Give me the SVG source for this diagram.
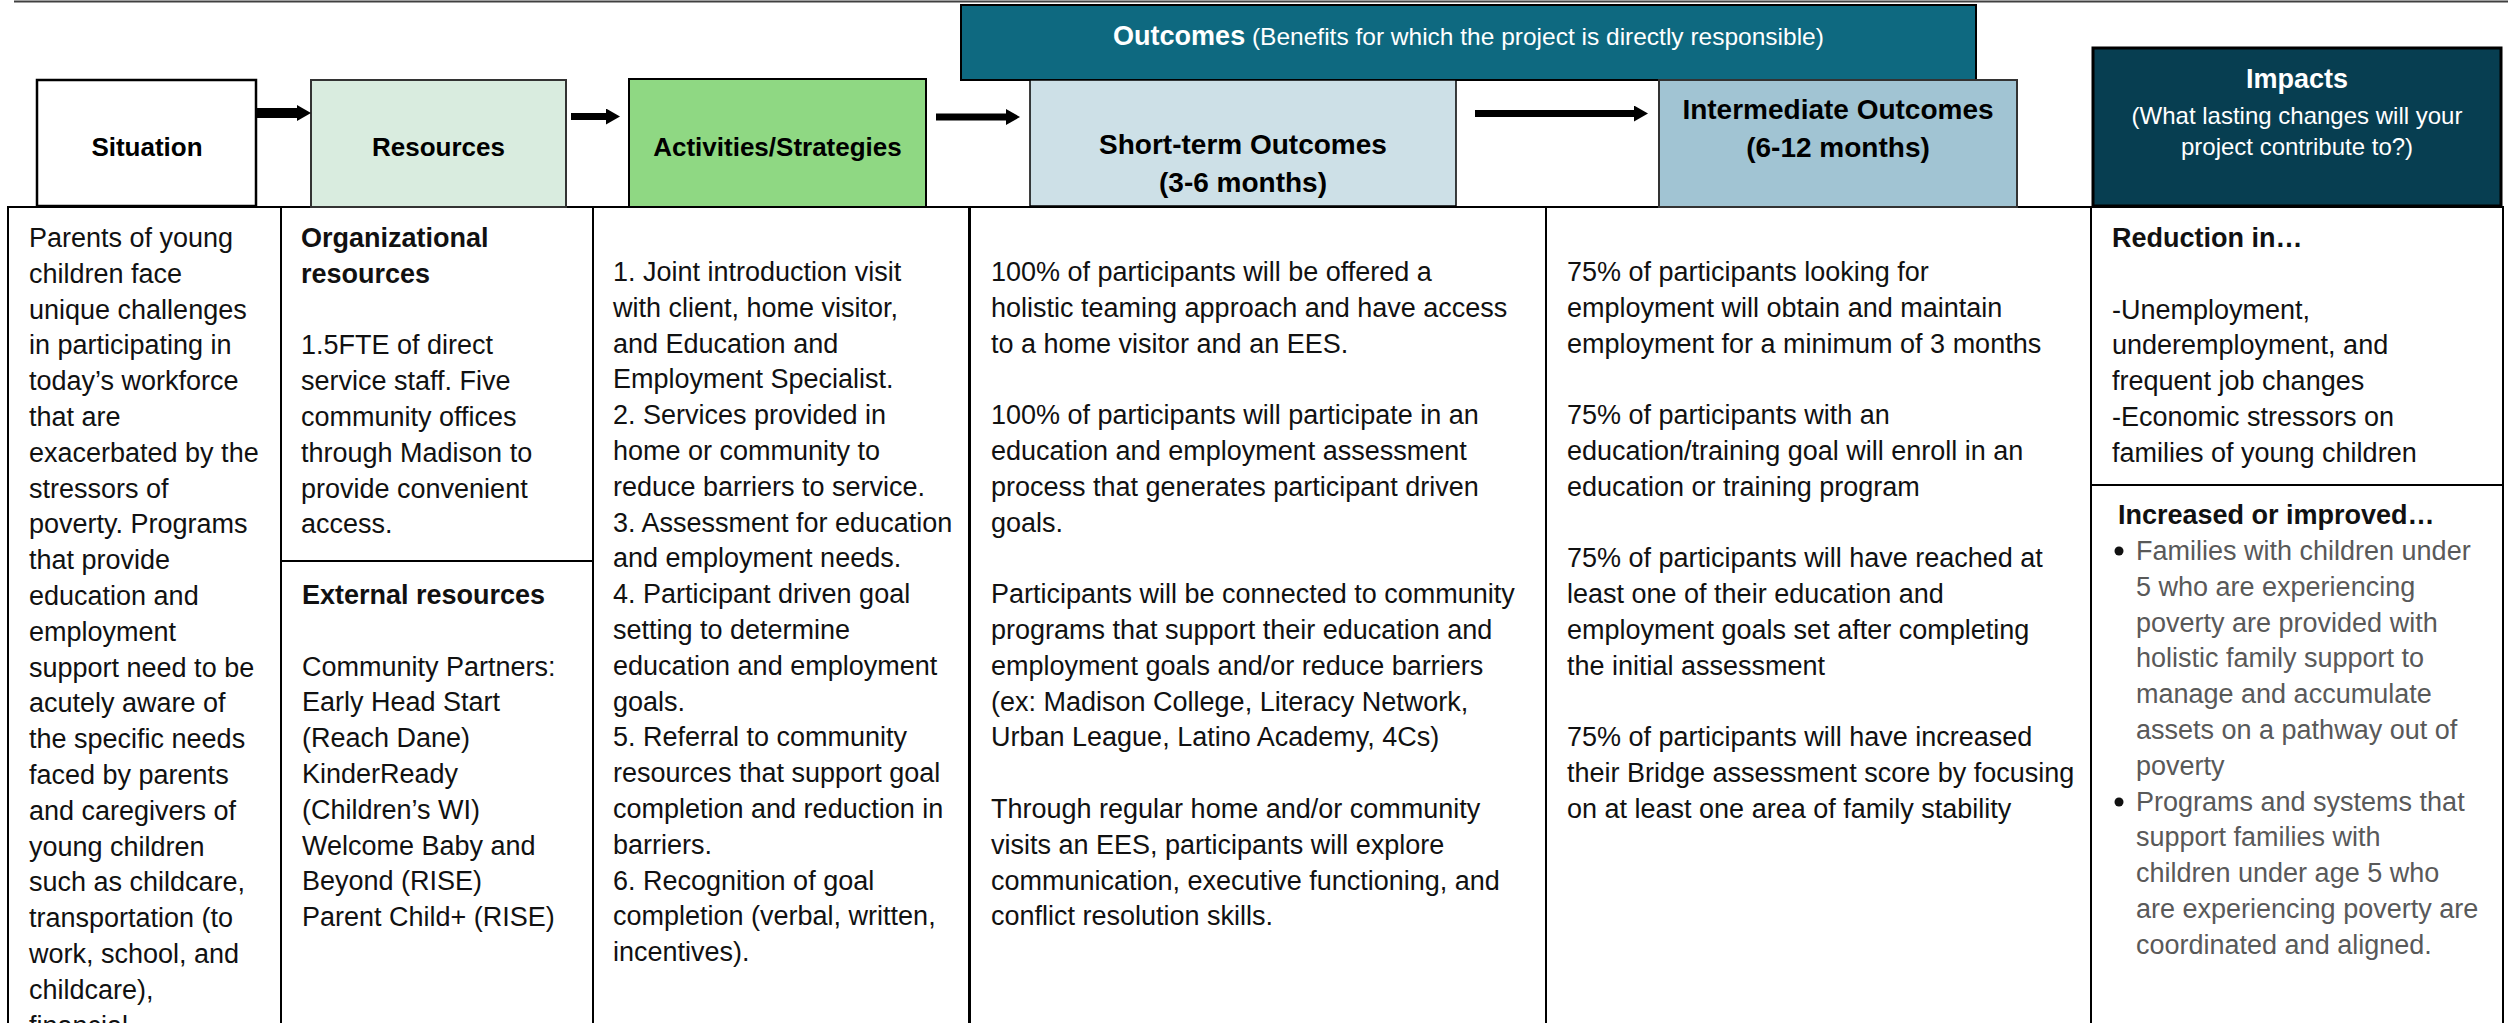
<svg xmlns="http://www.w3.org/2000/svg" width="2508" height="1023" viewBox="0 0 2508 1023">
<style>
  text { font-family: "Liberation Sans", Arial, sans-serif; }
  .body { font-size: 27px; fill: #111; }
  .bold { font-weight: bold; }
  .gray { fill: #595959; }
  .hdr { font-size: 26px; font-weight: bold; fill: #000; text-anchor: middle; }
  .hdr28 { font-size: 28px; font-weight: bold; fill: #000; text-anchor: middle; }
  .wht { fill: #fff; text-anchor: middle; }
  .cell { fill: #fff; stroke: #000; stroke-width: 2; }
  .arrow { stroke: #000; fill: none; }
</style>
<defs>
  <marker id="ah" markerUnits="userSpaceOnUse" markerWidth="14" markerHeight="16" refX="0" refY="8" orient="auto">
    <path d="M0,0 L14,8 L0,16 Z" fill="#000"/>
  </marker>
</defs>
<rect x="0" y="0" width="2508" height="1023" fill="#fff"/>
<line x1="14" y1="1.5" x2="2508" y2="1.5" stroke="#404040" stroke-width="2"/>

<g id="situation">
  <rect class="cell" x="8" y="207" width="273" height="830"/>
  <rect x="37" y="80" width="219" height="126" fill="#fff" stroke="#000" stroke-width="2.5"/>
  <text class="hdr" x="147" y="156">Situation</text>
  <text class="body" x="29" y="247">
    <tspan x="29">Parents of young</tspan>
    <tspan x="29" dy="35.8">children face</tspan>
    <tspan x="29" dy="35.8">unique challenges</tspan>
    <tspan x="29" dy="35.8">in participating in</tspan>
    <tspan x="29" dy="35.8">today’s workforce</tspan>
    <tspan x="29" dy="35.8">that are</tspan>
    <tspan x="29" dy="35.8">exacerbated by the</tspan>
    <tspan x="29" dy="35.8">stressors of</tspan>
    <tspan x="29" dy="35.8">poverty. Programs</tspan>
    <tspan x="29" dy="35.8">that provide</tspan>
    <tspan x="29" dy="35.8">education and</tspan>
    <tspan x="29" dy="35.8">employment</tspan>
    <tspan x="29" dy="35.8">support need to be</tspan>
    <tspan x="29" dy="35.8">acutely aware of</tspan>
    <tspan x="29" dy="35.8">the specific needs</tspan>
    <tspan x="29" dy="35.8">faced by parents</tspan>
    <tspan x="29" dy="35.8">and caregivers of</tspan>
    <tspan x="29" dy="35.8">young children</tspan>
    <tspan x="29" dy="35.8">such as childcare,</tspan>
    <tspan x="29" dy="35.8">transportation (to</tspan>
    <tspan x="29" dy="35.8">work, school, and</tspan>
    <tspan x="29" dy="35.8">childcare),</tspan>
    <tspan x="29" dy="35.8">financial</tspan>
  </text>
</g>

<g id="resources">
  <rect class="cell" x="281" y="207" width="312" height="830"/>
  <line x1="281" y1="561" x2="593" y2="561" stroke="#000" stroke-width="2"/>
  <rect x="311" y="80" width="255" height="127" fill="#d9ecdf" stroke="#333" stroke-width="2"/>
  <text class="hdr" x="438.5" y="156">Resources</text>
  <text class="body" x="301" y="247">
    <tspan x="301" class="bold">Organizational</tspan>
    <tspan x="301" dy="35.8" class="bold">resources</tspan>
    <tspan x="301" dy="71.6">1.5FTE of direct</tspan>
    <tspan x="301" dy="35.8">service staff. Five</tspan>
    <tspan x="301" dy="35.8">community offices</tspan>
    <tspan x="301" dy="35.8">through Madison to</tspan>
    <tspan x="301" dy="35.8">provide convenient</tspan>
    <tspan x="301" dy="35.8">access.</tspan>
  </text>
  <text class="body" x="302" y="604">
    <tspan x="302" class="bold">External resources</tspan>
    <tspan x="302" dy="71.6">Community Partners:</tspan>
    <tspan x="302" dy="35.8">Early Head Start</tspan>
    <tspan x="302" dy="35.8">(Reach Dane)</tspan>
    <tspan x="302" dy="35.8">KinderReady</tspan>
    <tspan x="302" dy="35.8">(Children’s WI)</tspan>
    <tspan x="302" dy="35.8">Welcome Baby and</tspan>
    <tspan x="302" dy="35.8">Beyond (RISE)</tspan>
    <tspan x="302" dy="35.8">Parent Child+ (RISE)</tspan>
  </text>
</g>

<g id="activities">
  <rect class="cell" x="593" y="207" width="376" height="830"/>
  <rect x="629" y="79" width="297" height="128" fill="#8fd883" stroke="#000" stroke-width="2"/>
  <text class="hdr" x="777.5" y="156">Activities/Strategies</text>
  <text class="body" x="613" y="281">
    <tspan x="613">1. Joint introduction visit</tspan>
    <tspan x="613" dy="35.8">with client, home visitor,</tspan>
    <tspan x="613" dy="35.8">and Education and</tspan>
    <tspan x="613" dy="35.8">Employment Specialist.</tspan>
    <tspan x="613" dy="35.8">2. Services provided in</tspan>
    <tspan x="613" dy="35.8">home or community to</tspan>
    <tspan x="613" dy="35.8">reduce barriers to service.</tspan>
    <tspan x="613" dy="35.8">3. Assessment for education</tspan>
    <tspan x="613" dy="35.8">and employment needs.</tspan>
    <tspan x="613" dy="35.8">4. Participant driven goal</tspan>
    <tspan x="613" dy="35.8">setting to determine</tspan>
    <tspan x="613" dy="35.8">education and employment</tspan>
    <tspan x="613" dy="35.8">goals.</tspan>
    <tspan x="613" dy="35.8">5. Referral to community</tspan>
    <tspan x="613" dy="35.8">resources that support goal</tspan>
    <tspan x="613" dy="35.8">completion and reduction in</tspan>
    <tspan x="613" dy="35.8">barriers.</tspan>
    <tspan x="613" dy="35.8">6. Recognition of goal</tspan>
    <tspan x="613" dy="35.8">completion (verbal, written,</tspan>
    <tspan x="613" dy="35.8">incentives).</tspan>
  </text>
</g>

<g id="outcomes-banner">
  <rect x="961" y="5" width="1015" height="75" fill="#0e6980" stroke="#000" stroke-width="2"/>
  <text class="wht" x="1468.5" y="45"><tspan font-weight="bold" font-size="27">Outcomes</tspan><tspan font-size="24.5"> (Benefits for which the project is directly responsible)</tspan></text>
</g>

<g id="short-term">
  <rect class="cell" x="970" y="207" width="576" height="830"/>
  <rect x="1030" y="80" width="426" height="126" fill="#cde0e7" stroke="#000" stroke-width="1.5"/>
  <text class="hdr28" x="1243" y="154">Short-term Outcomes</text>
  <text class="hdr28" x="1243" y="192">(3-6 months)</text>
  <text class="body" x="991" y="281">
    <tspan x="991">100% of participants will be offered a</tspan>
    <tspan x="991" dy="35.8">holistic teaming approach and have access</tspan>
    <tspan x="991" dy="35.8">to a home visitor and an EES.</tspan>
    <tspan x="991" dy="71.6">100% of participants will participate in an</tspan>
    <tspan x="991" dy="35.8">education and employment assessment</tspan>
    <tspan x="991" dy="35.8">process that generates participant driven</tspan>
    <tspan x="991" dy="35.8">goals.</tspan>
    <tspan x="991" dy="71.6">Participants will be connected to community</tspan>
    <tspan x="991" dy="35.8">programs that support their education and</tspan>
    <tspan x="991" dy="35.8">employment goals and/or reduce barriers</tspan>
    <tspan x="991" dy="35.8">(ex: Madison College, Literacy Network,</tspan>
    <tspan x="991" dy="35.8">Urban League, Latino Academy, 4Cs)</tspan>
    <tspan x="991" dy="71.6">Through regular home and/or community</tspan>
    <tspan x="991" dy="35.8">visits an EES, participants will explore</tspan>
    <tspan x="991" dy="35.8">communication, executive functioning, and</tspan>
    <tspan x="991" dy="35.8">conflict resolution skills.</tspan>
  </text>
</g>

<g id="intermediate">
  <rect class="cell" x="1546" y="207" width="545" height="830"/>
  <rect x="1659" y="80" width="358" height="127" fill="#a1c4d3" stroke="#333" stroke-width="2"/>
  <text class="hdr28" x="1838" y="119">Intermediate Outcomes</text>
  <text class="hdr28" x="1838" y="157">(6-12 months)</text>
  <text class="body" x="1567" y="281">
    <tspan x="1567">75% of participants looking for</tspan>
    <tspan x="1567" dy="35.8">employment will obtain and maintain</tspan>
    <tspan x="1567" dy="35.8">employment for a minimum of 3 months</tspan>
    <tspan x="1567" dy="71.6">75% of participants with an</tspan>
    <tspan x="1567" dy="35.8">education/training goal will enroll in an</tspan>
    <tspan x="1567" dy="35.8">education or training program</tspan>
    <tspan x="1567" dy="71.6">75% of participants will have reached at</tspan>
    <tspan x="1567" dy="35.8">least one of their education and</tspan>
    <tspan x="1567" dy="35.8">employment goals set after completing</tspan>
    <tspan x="1567" dy="35.8">the initial assessment</tspan>
    <tspan x="1567" dy="71.6">75% of participants will have increased</tspan>
    <tspan x="1567" dy="35.8">their Bridge assessment score by focusing</tspan>
    <tspan x="1567" dy="35.8">on at least one area of family stability</tspan>
  </text>
</g>

<g id="impacts">
  <rect class="cell" x="2091" y="207" width="412" height="830"/>
  <line x1="2091" y1="485" x2="2503" y2="485" stroke="#000" stroke-width="2"/>
  <rect x="2093" y="48" width="408" height="158" fill="#073e51" stroke="#000" stroke-width="3"/>
  <text class="wht" x="2297" y="88" font-size="27" font-weight="bold">Impacts</text>
  <text class="wht" x="2297" y="124" font-size="24">(What lasting changes will your</text>
  <text class="wht" x="2297" y="155" font-size="24">project contribute to?)</text>
  <text class="body" x="2112" y="247">
    <tspan x="2112" class="bold">Reduction in…</tspan>
    <tspan x="2112" dy="71.6">-Unemployment,</tspan>
    <tspan x="2112" dy="35.8">underemployment, and</tspan>
    <tspan x="2112" dy="35.8">frequent job changes</tspan>
    <tspan x="2112" dy="35.8">-Economic stressors on</tspan>
    <tspan x="2112" dy="35.8">families of young children</tspan>
  </text>
  <text class="body bold" x="2118" y="524">Increased or improved…</text>
  <circle cx="2119" cy="551" r="4.5" fill="#111"/>
  <circle cx="2119" cy="802" r="4.5" fill="#111"/>
  <text class="body gray" x="2136" y="560">
    <tspan x="2136">Families with children under</tspan>
    <tspan x="2136" dy="35.8">5 who are experiencing</tspan>
    <tspan x="2136" dy="35.8">poverty are provided with</tspan>
    <tspan x="2136" dy="35.8">holistic family support to</tspan>
    <tspan x="2136" dy="35.8">manage and accumulate</tspan>
    <tspan x="2136" dy="35.8">assets on a pathway out of</tspan>
    <tspan x="2136" dy="35.8">poverty</tspan>
    <tspan x="2136" dy="35.8">Programs and systems that</tspan>
    <tspan x="2136" dy="35.8">support families with</tspan>
    <tspan x="2136" dy="35.8">children under age 5 who</tspan>
    <tspan x="2136" dy="35.8">are experiencing poverty are</tspan>
    <tspan x="2136" dy="35.8">coordinated and aligned.</tspan>
  </text>
</g>

<g id="connectors">
  <line class="arrow" x1="257" y1="113" x2="297" y2="113" stroke-width="10" marker-end="url(#ah)"/>
  <line class="arrow" x1="571" y1="116.5" x2="606" y2="116.5" stroke-width="7" marker-end="url(#ah)"/>
  <line class="arrow" x1="936" y1="117" x2="1006" y2="117" stroke-width="7" marker-end="url(#ah)"/>
  <line class="arrow" x1="1475" y1="113.5" x2="1634" y2="113.5" stroke-width="7" marker-end="url(#ah)"/>
</g>
</svg>
